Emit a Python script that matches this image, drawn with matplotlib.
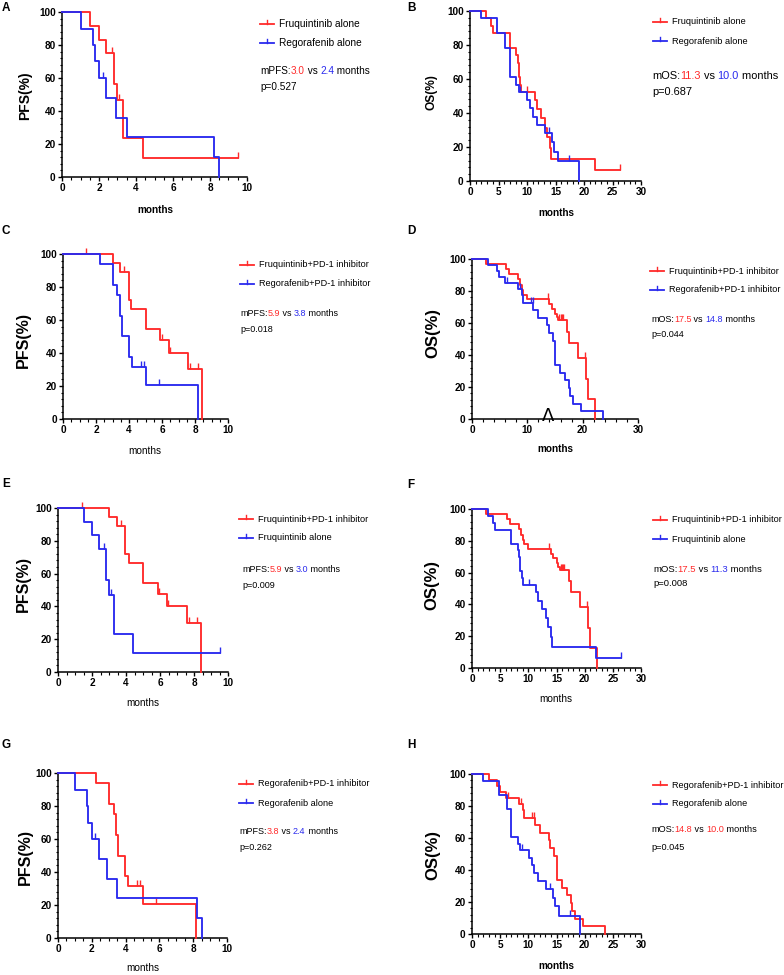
import numpy as np
import matplotlib
matplotlib.use('Agg')
import matplotlib.pyplot as plt
from matplotlib.lines import Line2D
from matplotlib.ticker import MultipleLocator

plt.rcParams['font.family'] = ['Liberation Sans', 'DejaVu Sans']

RED = '#ff2a2a'
BLUE = '#2a2aee'

# Kaplan-Meier steps: event times, survival (%) after them, censored times
fru_pfs_t = [1.5, 2.0, 2.4, 2.8, 3.0, 3.3, 4.4]
fru_pfs_s = [91.7, 83.3, 75.0, 56.3, 46.9, 23.4, 11.7]
fru_pfs_c = [2.7, 3.1, 9.5]

reg_pfs_t = [1.0, 1.7, 1.8, 2.0, 2.4, 2.9, 3.5, 8.2, 8.5]
reg_pfs_s = [90.0, 80.0, 70.0, 60.0, 48.0, 36.0, 24.0, 12.0, 0.0]
reg_pfs_c = [2.2]

frupd_pfs_t = [3.0, 3.45, 3.97, 4.15, 5.0, 5.9, 6.4, 7.6, 8.4]
frupd_pfs_s = [94.4, 88.9, 72.2, 66.7, 54.5, 47.6, 40.0, 30.0, 0.0]
frupd_pfs_c = [1.4, 3.7, 5.97, 6.47, 7.7, 8.2]

regpd_pfs_t = [2.25, 3.0, 3.3, 3.45, 3.57, 3.97, 4.17, 5.0, 8.17]
regpd_pfs_s = [93.8, 81.3, 75.0, 62.5, 50.0, 37.5, 31.3, 20.8, 0.0]
regpd_pfs_c = [4.7, 4.88, 5.8]

fru_os_t = [2.87, 3.74, 4.0, 7.0, 8.1, 8.4, 8.6, 8.8, 9.0, 11.35, 11.75, 12.5, 13.1, 13.5, 14.0, 14.15, 22.0]
fru_os_s = [95.7, 91.3, 87.0, 78.3, 73.9, 69.6, 61.2, 56.5, 52.2, 47.6, 42.2, 36.9, 31.4, 26.1, 19.4, 13.0, 6.5]
fru_os_c = [10.05, 26.4]

reg_os_t = [2.0, 4.8, 6.2, 7.0, 8.1, 8.6, 10.05, 10.6, 11.05, 11.8, 13.1, 14.3, 14.7, 15.5, 19.1]
reg_os_s = [95.7, 87.0, 78.3, 60.9, 56.5, 52.2, 47.8, 43.1, 37.9, 33.1, 28.1, 22.7, 17.3, 11.5, 0.0]
reg_os_c = [8.8, 13.9, 17.4]

frupd_os_t = [2.55, 6.15, 6.75, 8.35, 8.65, 9.0, 9.3, 9.9, 14.0, 14.4, 15.0, 15.3, 15.6, 17.2, 17.6, 19.1, 20.6, 20.9, 22.2]
frupd_os_s = [96.9, 93.8, 90.6, 87.6, 83.8, 80.6, 77.7, 75.0, 71.9, 68.9, 65.8, 63.7, 61.7, 54.5, 47.7, 38.1, 25.3, 12.7, 0.0]
frupd_os_c = [13.7, 15.8, 16.0, 16.2, 16.4, 20.4]

regpd_os_t = [2.95, 4.45, 4.95, 5.95, 8.35, 9.0, 9.3, 11.1, 12.0, 13.6, 13.9, 14.6, 15.0, 15.9, 16.8, 17.5, 17.8, 18.2, 19.7, 23.6]
regpd_os_s = [96.3, 92.6, 88.9, 85.2, 81.5, 77.7, 72.7, 68.3, 63.3, 58.5, 53.8, 48.5, 34.0, 29.0, 24.2, 19.4, 14.4, 9.4, 4.8, 0.0]
regpd_os_c = [6.4, 8.7, 10.7, 11.0]

# text of each panel
letters = ['A', 'B', 'C', 'D', 'E', 'F', 'G', 'H']
red_labels = ['Fruquintinib alone', 'Fruquintinib alone', 'Fruquintinib+PD-1 inhibitor',
              'Fruquintinib+PD-1 inhibitor', 'Fruquintinib+PD-1 inhibitor',
              'Fruquintinib+PD-1 inhibitor', 'Regorafenib+PD-1 inhibitor', 'Regorafenib+PD-1 inhibitor']
blue_labels = ['Regorafenib alone', 'Regorafenib alone', 'Regorafenib+PD-1 inhibitor',
               'Regorafenib+PD-1 inhibitor', 'Fruquintinib alone', 'Fruquintinib alone',
               'Regorafenib alone', 'Regorafenib alone']
median_names = ['mPFS:', 'mOS:', 'mPFS:', 'mOS:', 'mPFS:', 'mOS:', 'mPFS:', 'mOS:']
median_red = ['3.0', '11.3', '5.9', '17.5', '5.9', '17.5', '3.8', '14.8']
median_blue = ['2.4', '10.0', '3.8', '14.8', '3.0', '11.3', '2.4', '10.0']
p_values = ['p=0.527', 'p=0.687', 'p=0.018', 'p=0.044', 'p=0.009', 'p=0.008', 'p=0.262', 'p=0.045']

W, H = 784, 975
fig = plt.figure(figsize=(W / 100, H / 100), dpi=100)
renderer = fig.canvas.get_renderer()


def fx(x):
    return x / W


def fy(y):
    return 1 - y / H


def text_width(s, size):
    # width in pixels, keeping leading/trailing spaces
    a = fig.text(0, 0, 'x' + s + 'x', fontsize=size)
    b = fig.text(0, 0, 'xx', fontsize=size)
    w = a.get_window_extent(renderer).width - b.get_window_extent(renderer).width
    a.remove()
    b.remove()
    return w


def km(ax, t, s, cens, color):
    t = np.asarray(t, float)
    s = np.asarray(s, float)
    end = max(t[-1], max(cens) if len(cens) else 0)
    xs = np.concatenate([[0], t, [end]])
    ys = np.concatenate([[100], s, [s[-1]]])
    ax.step(xs, ys, where='post', color=color, lw=1.35, clip_on=False, zorder=3)
    if len(cens):
        c = np.asarray(cens, float)
        idx = np.searchsorted(t, c, side='right')
        vals = np.concatenate([[100], s])[idx]
        ax.plot(c, vals, ls='none', marker=2, ms=4, mew=1.0, color=color,
                clip_on=False, zorder=3)


def panel(i, box, xmax, xmaj, xmin, red, blue, ylab, ylab_xy, ylab_size,
          xlab_xy, xlab_bold, letter_xy, leg_xy, leg_size, stat_xy, stat_size,
          p_y, blue_median_color=BLUE):
    x0, y0, x1, y1 = box
    ax = fig.add_axes([fx(x0), fy(y1), (x1 - x0) / W, (y1 - y0) / H])
    km(ax, *red, RED)
    km(ax, *blue, BLUE)
    ax.set_xlim(0, xmax)
    ax.set_ylim(0, 100)
    for sp in ['top', 'right']:
        ax.spines[sp].set_visible(False)
    for sp in ['left', 'bottom']:
        ax.spines[sp].set_linewidth(1.1)
    ax.set_xticks(np.arange(0, xmax + 0.01, xmaj))
    ax.set_yticks(np.arange(0, 101, 20))
    ax.set_xticklabels([f'{v:g}' for v in np.arange(0, xmax + 0.01, xmaj)])
    ax.set_yticklabels([f'{v:g}' for v in np.arange(0, 101, 20)])
    ax.xaxis.set_minor_locator(MultipleLocator(xmin))
    ax.yaxis.set_minor_locator(MultipleLocator(4))
    ax.tick_params(which='major', length=3, width=1.0, labelsize=7.2, pad=1.5)
    ax.tick_params(which='minor', length=1.8, width=0.8)
    for lbl in ax.get_xticklabels() + ax.get_yticklabels():
        lbl.set_fontweight('bold')

    fig.text(fx(ylab_xy[0]), fy(ylab_xy[1]), ylab, rotation=90, fontsize=ylab_size,
             fontweight='bold', ha='center', va='center')
    fig.text(fx(xlab_xy[0]), fy(xlab_xy[1]), 'months', fontsize=7.2,
             fontweight='bold' if xlab_bold else 'normal', ha='center', va='center')
    fig.text(fx(letter_xy[0]), fy(letter_xy[1]), letters[i], fontsize=8.5,
             fontweight='bold', ha='left', va='center')

    # legend
    lx, ly = leg_xy
    for k, (col, lab) in enumerate([(RED, red_labels[i]), (BLUE, blue_labels[i])]):
        yy = ly + k * 19
        fig.add_artist(Line2D([fx(lx), fx(lx + 14)], [fy(yy), fy(yy)], color=col, lw=1.3))
        fig.add_artist(Line2D([fx(lx + 7), fx(lx + 7)], [fy(yy), fy(yy - 4)], color=col, lw=1.0))
        fig.text(fx(lx + 19), fy(yy), lab, fontsize=leg_size, ha='left', va='center')

    # median and p value
    sx, sy = stat_xy
    pieces = [(median_names[i], 'black'), (median_red[i], RED), (' vs ', 'black'),
              (median_blue[i], blue_median_color), (' months', 'black')]
    for txt, col in pieces:
        fig.text(fx(sx), fy(sy), txt, color=col, fontsize=stat_size, ha='left', va='center')
        sx += text_width(txt, stat_size)
    fig.text(fx(stat_xy[0]), fy(p_y), p_values[i], fontsize=stat_size, ha='left', va='center')
    return ax


fru_pfs = (fru_pfs_t, fru_pfs_s, fru_pfs_c)
reg_pfs = (reg_pfs_t, reg_pfs_s, reg_pfs_c)
frupd_pfs = (frupd_pfs_t, frupd_pfs_s, frupd_pfs_c)
regpd_pfs = (regpd_pfs_t, regpd_pfs_s, regpd_pfs_c)
fru_os = (fru_os_t, fru_os_s, fru_os_c)
reg_os = (reg_os_t, reg_os_s, reg_os_c)
frupd_os = (frupd_os_t, frupd_os_s, frupd_os_c)
regpd_os = (regpd_os_t, regpd_os_s, regpd_os_c)

panel(0, (62, 12, 247, 177), 10, 2, 0.5, fru_pfs, reg_pfs, 'PFS(%)', (25, 96), 10,
      (155, 210), True, (2, 8), (260, 24), 7.3, (260, 71), 7.2, 87)
panel(1, (470, 11, 641, 181), 30, 5, 1, fru_os, reg_os, 'OS(%)', (432, 92), 8.6,
      (556, 213), True, (407, 8), (653, 22), 6.7, (652, 76), 7.9, 92)
panel(2, (63, 254, 228, 419), 10, 2, 0.5, frupd_pfs, regpd_pfs, 'PFS(%)', (23, 340), 11.5,
      (145, 451), False, (2, 231), (240, 265), 6.6, (240, 314), 6.5, 330)
axd = panel(3, (472, 259, 638, 419), 30, 10, 2, frupd_os, regpd_os, 'OS(%)', (433, 333), 12,
            (555, 449), True, (407, 231), (650, 271), 6.6, (651, 319), 6.5, 334)
panel(4, (58, 508, 228, 672), 10, 2, 0.5, frupd_pfs, fru_pfs, 'PFS(%)', (23, 584), 11.5,
      (143, 703), False, (2, 484), (239, 519), 6.7, (242, 569), 6.5, 585)
panel(5, (472, 509, 641, 668), 30, 5, 1, frupd_os, fru_os, 'OS(%)', (432, 585), 12,
      (556, 699), False, (407, 485), (653, 520), 6.6, (653, 569), 6.8, 583)
panel(6, (58, 773, 227, 938), 10, 2, 0.5, regpd_pfs, reg_pfs, 'PFS(%)', (25, 857), 11.5,
      (143, 968), False, (2, 745), (239, 784), 6.6, (239, 832), 6.5, 847)
panel(7, (472, 774, 641, 934), 30, 5, 1, regpd_os, reg_os, 'OS(%)', (433, 855), 12,
      (556, 966), True, (407, 745), (653, 785), 6.6, (651, 830), 6.6, 847, blue_median_color=RED)

# stray caret mark on the x axis of panel D
axd.text(13.7, -3.5, 'Λ', fontsize=13, family=['Liberation Sans Narrow', 'DejaVu Sans'],
         ha='center', va='bottom', clip_on=False)

fig.savefig('out.png', dpi=100)
